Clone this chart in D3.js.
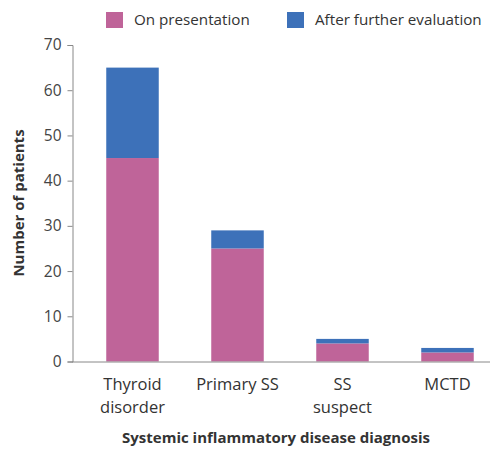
<!DOCTYPE html>
<html>
<head>
<meta charset="utf-8">
<script src="https://cdn.jsdelivr.net/npm/d3@7"></script>
<style>
  body { margin: 0; background: #fff; }
  text { font-family: "Open Sans", sans-serif; }
</style>
</head>
<body>
<svg></svg>
<script>
// 数据
const categories = ['Thyroid disorder', 'Primary SS', 'SS suspect', 'MCTD']
const catLines = [['Thyroid', 'disorder'], ['Primary SS'], ['SS', 'suspect'], ['MCTD']]
const onPresentation = [45, 25, 4, 2]
const afterEvaluation = [20, 4, 1, 1]
const seriesNames = ['On presentation', 'After further evaluation']
const yTicks = [0, 10, 20, 30, 40, 50, 60, 70]

const width = 492
const height = 451
const colors = ['#bf6499', '#3d71b9']

let svg = d3.select('svg')
    .attr('width', width)
    .attr('height', height)

// 比例尺
let xScale = d3.scaleBand()
    .domain(categories)
    .range([80, 500])
    .paddingInner(0.5)
    .paddingOuter(0.25)

let yScale = d3.scaleLinear()
    .domain([0, 70])
    .range([361.5, 45])

// 堆叠数据
let rows = categories.map((c, i) => ({cat: c, a: onPresentation[i], b: afterEvaluation[i]}))
let stack = d3.stack().keys(['a', 'b'])(rows)

svg.append('g').selectAll('g').data(stack).enter()
    .append('g')
    .attr('fill', (d, i) => colors[i])
    .selectAll('rect').data(d => d).enter()
    .append('rect')
    .attr('x', d => xScale(d.data.cat))
    .attr('width', xScale.bandwidth())
    .attr('y', d => yScale(d[1]))
    .attr('height', d => yScale(d[0]) - yScale(d[1]))

// y轴
let yAxis = d3.axisLeft(yScale).tickValues(yTicks).tickSize(5).tickPadding(6)
let gy = svg.append('g')
    .attr('transform', 'translate(72.5,0)')
    .call(yAxis)
gy.select('.domain').attr('stroke', '#888')
gy.selectAll('.tick line').attr('stroke', '#888')
gy.selectAll('.tick text')
    .attr('fill', '#444')
    .style('font-size', '15.5px')
    .style('font-family', 'Open Sans, sans-serif')

// x轴线
svg.append('line')
    .attr('x1', 72).attr('x2', 490)
    .attr('y1', yScale(0) + 0.5).attr('y2', yScale(0) + 0.5)
    .attr('stroke', '#888')

// 分类标签
let labels = svg.append('g').selectAll('text').data(categories).enter()
    .append('text')
    .attr('text-anchor', 'middle')
    .attr('fill', '#333')
    .style('font-size', '16.5px')
labels.each(function (c, i) {
    d3.select(this).selectAll('tspan').data(catLines[i]).enter()
        .append('tspan')
        .attr('x', xScale(c) + xScale.bandwidth() / 2)
        .attr('y', (d, j) => 390 + j * 23)
        .text(d => d)
})

// 轴标题
svg.append('text')
    .attr('x', 276).attr('y', 443)
    .attr('text-anchor', 'middle')
    .attr('fill', '#333')
    .style('font-size', '15px')
    .style('font-weight', 'bold')
    .text('Systemic inflammatory disease diagnosis')

svg.append('text')
    .attr('transform', 'translate(24,203) rotate(-90)')
    .attr('text-anchor', 'middle')
    .attr('fill', '#333')
    .style('font-size', '15px')
    .style('font-weight', 'bold')
    .text('Number of patients')

// 图例
let legendX = [106, 287]
let legend = svg.append('g').selectAll('g').data(seriesNames).enter()
    .append('g')
    .attr('transform', (d, i) => 'translate(' + legendX[i] + ',12)')
legend.append('rect')
    .attr('width', 17).attr('height', 16)
    .attr('fill', (d, i) => colors[i])
legend.append('text')
    .attr('x', 28).attr('y', 13)
    .attr('fill', '#333')
    .style('font-size', '15.2px')
    .text(d => d)
</script>
</body>
</html>
